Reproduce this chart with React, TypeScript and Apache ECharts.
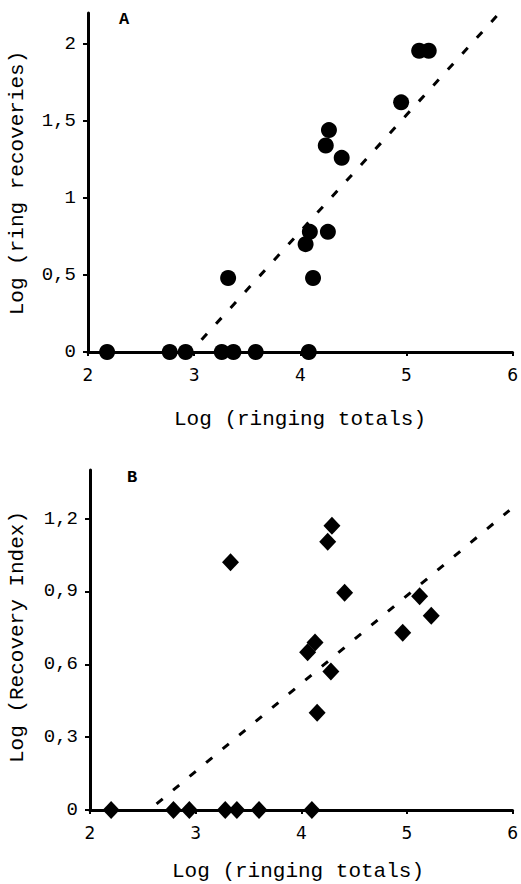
import React, { useEffect, useRef } from "react";
import * as echarts from "echarts";

// ---- Data ----
const xTicks = [2, 3, 4, 5, 6];
const yTicksA = [0, 0.5, 1, 1.5, 2];
const yTicksB = [0, 0.3, 0.6, 0.9, 1.2];

// Panel A: Log(ringing totals) vs Log(ring recoveries)
const ringingTotalsA = [2.18, 2.77, 2.92, 3.26, 3.37, 3.58, 4.08, 3.32, 4.05, 4.09, 4.12, 4.26, 4.24, 4.27, 4.39, 4.95, 5.12, 5.21];
const ringRecoveriesA = [0, 0, 0, 0, 0, 0, 0, 0.48, 0.7, 0.78, 0.48, 0.78, 1.34, 1.44, 1.26, 1.62, 1.955, 1.955];
const trendXA = [3.07, 5.85];
const trendYA = [0.08, 2.18];

// Panel B: Log(ringing totals) vs Log(Recovery Index)
const ringingTotalsB = [2.2, 2.79, 2.94, 3.28, 3.39, 3.6, 4.1, 3.33, 4.06, 4.13, 4.15, 4.28, 4.25, 4.29, 4.41, 4.96, 5.12, 5.23];
const recoveryIndexB = [0, 0, 0, 0, 0, 0, 0, 1.02, 0.65, 0.69, 0.4, 0.57, 1.105, 1.17, 0.895, 0.73, 0.88, 0.8];
const trendXB = [2.63, 5.97];
const trendYB = [0.025, 1.234];

const pairs = (xs: number[], ys: number[]) => xs.map((x, i) => [x, ys[i]]);
const comma = (v: number) => String(v).replace(".", ",");

const MONO = "'Liberation Mono', 'DejaVu Sans Mono', monospace";
const SANS = "'DejaVu Sans', Verdana, sans-serif";

function xAxisCfg(gridIndex: number) {
  return {
    type: "value",
    gridIndex,
    min: 2,
    max: 6,
    interval: 1,
    axisLine: { show: true, onZero: false, lineStyle: { color: "#000", width: 3 } },
    axisTick: { show: true, length: 4, lineStyle: { color: "#000", width: 2 }, customValues: xTicks },
    axisLabel: { customValues: xTicks, color: "#000", fontFamily: SANS, fontSize: 17, margin: 14 },
    splitLine: { show: false },
  };
}

function yAxisCfg(gridIndex: number, max: number, ticks: number[]) {
  return {
    type: "value",
    gridIndex,
    min: 0,
    max,
    axisLine: { show: true, onZero: false, lineStyle: { color: "#000", width: 3 } },
    axisTick: { show: true, length: 5, lineStyle: { color: "#000", width: 2 }, customValues: ticks },
    axisLabel: {
      customValues: ticks,
      formatter: (v: number) => comma(v),
      color: "#000",
      fontFamily: MONO,
      fontSize: 19,
      margin: 12,
    },
    splitLine: { show: false },
  };
}

export default function App() {
  const ref = useRef<HTMLDivElement>(null);

  useEffect(() => {
    if (!ref.current) return;
    const chart = echarts.init(ref.current, null, { renderer: "svg" });
    const dash = { color: "#000", width: 3, type: [8, 13.5] as any, cap: "butt" as any };
    const titleStyle = (text: string) => ({
      text,
      fill: "#000",
      font: `21px ${MONO}`,
      align: "center",
      verticalAlign: "middle",
    });
    chart.setOption({
      animation: false,
      backgroundColor: "#fff",
      grid: [
        { left: 88, right: 8, top: 13, bottom: 532 },
        { left: 90, right: 6, top: 470, bottom: 74 },
      ],
      xAxis: [xAxisCfg(0), xAxisCfg(1)],
      yAxis: [yAxisCfg(0, 2.2, yTicksA), yAxisCfg(1, 1.4, yTicksB)],
      series: [
        {
          type: "line",
          xAxisIndex: 0,
          yAxisIndex: 0,
          data: pairs(trendXA, trendYA),
          symbol: "none",
          clip: false,
          lineStyle: dash,
        },
        {
          type: "scatter",
          xAxisIndex: 0,
          yAxisIndex: 0,
          data: pairs(ringingTotalsA, ringRecoveriesA),
          symbol: "circle",
          symbolSize: 16,
          clip: false,
          itemStyle: { color: "#000", opacity: 1 },
        },
        {
          type: "line",
          xAxisIndex: 1,
          yAxisIndex: 1,
          data: pairs(trendXB, trendYB),
          symbol: "none",
          clip: false,
          lineStyle: dash,
        },
        {
          type: "scatter",
          xAxisIndex: 1,
          yAxisIndex: 1,
          data: pairs(ringingTotalsB, recoveryIndexB),
          symbol: "diamond",
          symbolSize: [17, 18],
          clip: false,
          itemStyle: { color: "#000", opacity: 1 },
        },
      ],
      graphic: [
        { type: "text", x: 119, y: 11, style: { text: "A", fill: "#000", font: `bold 17px ${MONO}` } },
        { type: "text", x: 127, y: 469, style: { text: "B", fill: "#000", font: `bold 17px ${MONO}` } },
        { type: "text", x: 300, y: 419, style: titleStyle("Log (ringing totals)") },
        { type: "text", x: 298, y: 871, style: titleStyle("Log (ringing totals)") },
        { type: "text", x: 17, y: 183, rotation: Math.PI / 2, style: titleStyle("Log (ring recoveries)") },
        { type: "text", x: 17, y: 637, rotation: Math.PI / 2, style: titleStyle("Log (Recovery Index)") },
      ],
    });
    return () => chart.dispose();
  }, []);

  return (
    <div
      ref={ref}
      style={{ position: "fixed", left: 0, top: 0, width: 521, height: 884, background: "#fff" }}
    />
  );
}
